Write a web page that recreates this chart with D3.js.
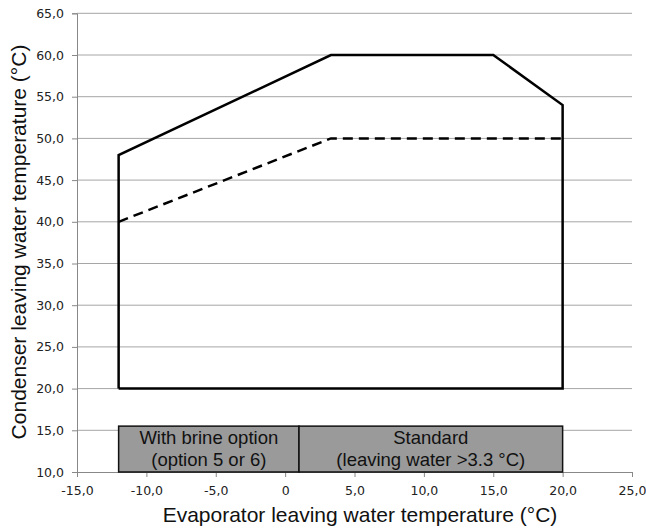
<!DOCTYPE html>
<html><head><meta charset="utf-8">
<script src="https://cdn.jsdelivr.net/npm/d3@7"></script>
<style>body{margin:0;background:#fff}</style>
</head><body>
<svg id="c" width="646" height="528"></svg>
<script>
// Data
const envelopeX = [-12, -12, 3.3, 15, 20, 20, -12];
const envelopeY = [20, 48, 60, 60, 54, 20, 20];
const dashedX = [-12, 3.3, 20];
const dashedY = [40, 50, 50];
const boxLabels = [["With brine option", "(option 5 or 6)"], ["Standard", "(leaving water >3.3 °C)"]];
const boxStart = [-12, 1];
const boxEnd = [1, 20];
const boxBottom = [10, 10];
const boxTop = [15.5, 15.5];
const xTicks = [-15, -10, -5, 0, 5, 10, 15, 20, 25];
const yTicks = [10, 15, 20, 25, 30, 35, 40, 45, 50, 55, 60, 65];
const xTitle = "Evaporator leaving water temperature (°C)";
const yTitle = "Condenser leaving water temperature (°C)";

const svg = d3.select("#c");
const x = d3.scaleLinear().domain([-15, 25]).range([77, 632]);
const y = d3.scaleLinear().domain([10, 65]).range([472, 13.3]);
const fmt = v => v === 0 ? "0" : v.toFixed(1).replace(".", ",");

// gridlines
svg.append("g").selectAll("line").data(yTicks.filter(v => v > 10)).join("line")
  .attr("x1", x(-15)).attr("x2", x(25)).attr("y1", d => y(d)).attr("y2", d => y(d))
  .attr("stroke", "#a6a6a6").attr("stroke-width", 1);

// axes
const yAxis = d3.axisLeft(y).tickValues(yTicks).tickFormat(fmt).tickSize(5).tickPadding(8);
const gy = svg.append("g").attr("transform", `translate(${x(-15)},0)`).call(yAxis);
const xAxis = d3.axisBottom(x).tickValues(xTicks).tickFormat(fmt).tickSize(5).tickPadding(9);
const gx = svg.append("g").attr("transform", `translate(0,${y(10)})`).call(xAxis);
[gx, gy].forEach(g => {
  g.select(".domain").attr("stroke", "#888");
  g.selectAll(".tick line").attr("stroke", "#888");
  g.selectAll(".tick text").attr("fill", "#222").style("font-family", "DejaVu Sans, Verdana, sans-serif").style("font-size", "12.5px");
});

// boxes
const boxes = boxStart.map((s, i) => ({s, e: boxEnd[i], b: boxBottom[i], t: boxTop[i], lab: boxLabels[i]}));
svg.append("g").selectAll("rect").data(boxes).join("rect")
  .attr("x", d => x(d.s)).attr("width", d => x(d.e) - x(d.s))
  .attr("y", d => y(d.t)).attr("height", d => y(d.b) - y(d.t))
  .attr("fill", "#9a9a9a").attr("stroke", "#111").attr("stroke-width", 1.5);
const bt = svg.append("g").selectAll("text").data(boxes).join("text")
  .attr("x", d => (x(d.s) + x(d.e)) / 2).attr("text-anchor", "middle")
  .style("font-family", "Liberation Sans, Arial, sans-serif").style("font-size", "18.5px").attr("fill", "#111");
bt.each(function(d) {
  const t = d3.select(this);
  d.lab.forEach((l, j) => t.append("tspan").attr("x", (x(d.s) + x(d.e)) / 2)
    .attr("y", y(d.t) + 18 + j * 22).text(l));
});

// envelope
const line = d3.line().x(d => x(d[0])).y(d => y(d[1]));
svg.append("path").datum(envelopeX.map((v, i) => [v, envelopeY[i]]))
  .attr("d", line).attr("fill", "none").attr("stroke", "#000").attr("stroke-width", 2.5)
  .attr("stroke-linejoin", "miter");
svg.append("path").datum(dashedX.map((v, i) => [v, dashedY[i]]))
  .attr("d", line).attr("fill", "none").attr("stroke", "#000").attr("stroke-width", 2.5)
  .attr("stroke-dasharray", "10,6");

// titles
svg.append("text").attr("x", 360).attr("y", 522).attr("text-anchor", "middle")
  .style("font-family", "Liberation Sans, Arial, sans-serif").style("font-size", "21px").attr("fill", "#111").text(xTitle);
svg.append("text").attr("transform", `translate(26,242) rotate(-90)`).attr("text-anchor", "middle")
  .style("font-family", "Liberation Sans, Arial, sans-serif").style("font-size", "21px").attr("fill", "#111").text(yTitle);
</script>
</body></html>
